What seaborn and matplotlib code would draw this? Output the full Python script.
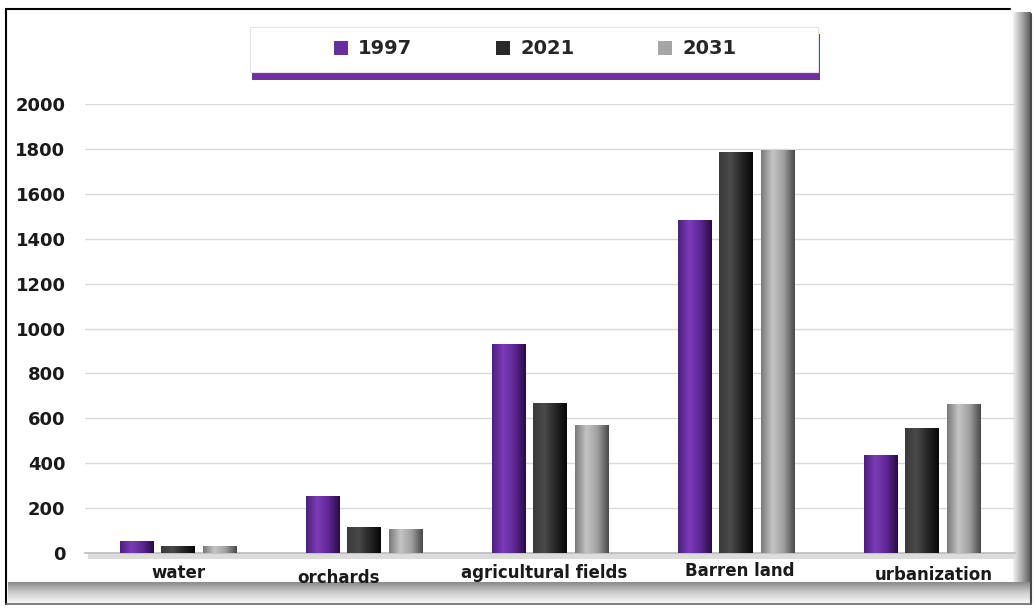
import numpy as np
import pandas as pd
import matplotlib
matplotlib.use("Agg")
import matplotlib.pyplot as plt
import matplotlib.transforms as mtransforms
from matplotlib.colors import LinearSegmentedColormap
from matplotlib.patches import Rectangle
import seaborn as sns

categories = ["water", "orchards", "agricultural fields", "Barren land", "urbanization"]
years = ["1997", "2021", "2031"]
values_1997 = [53, 254, 930, 1483, 436]
values_2021 = [30, 116, 668, 1786, 557]
values_2031 = [30, 107, 570, 1795, 664]
y_ticks = [0, 200, 400, 600, 800, 1000, 1200, 1400, 1600, 1800, 2000]

df = pd.DataFrame({
    "category": categories * 3,
    "year": [years[0]] * 5 + [years[1]] * 5 + [years[2]] * 5,
    "value": values_1997 + values_2021 + values_2031,
})

palette = {"1997": "#6a2d9f", "2021": "#2a2a2a", "2031": "#a6a6a6"}
gradients = {
    "1997": ["#4e1f80", "#7c3cb8", "#5e2792", "#2a0c45"],
    "2021": ["#3a3a3a", "#4a4a4a", "#262626", "#080808"],
    "2031": ["#7a7a7a", "#c4c4c4", "#a0a0a0", "#4a4a4a"],
}

sns.set_theme(style="white")
plt.rcParams["font.family"] = ["DejaVu Sans"]

W, H = 1034, 609
fig = plt.figure(figsize=(W / 100, H / 100), dpi=100)
fig.patch.set_facecolor("white")

# background frame (figure-pixel coordinates)
bg = fig.add_axes([0, 0, 1, 1], zorder=-5)
bg.set_xlim(0, W)
bg.set_ylim(H, 0)
bg.axis("off")
side_cmap = LinearSegmentedColormap.from_list("g", ["#f4f4f4", "#a8a8a8", "#5a5a5a"])
bottom_cmap = LinearSegmentedColormap.from_list("b", ["#fafafa", "#d0d0d0", "#8a8a8a"])
bg.imshow(np.linspace(0, 1, 64).reshape(1, -1), cmap=side_cmap, aspect="auto",
          extent=(1013, 1031, 603, 12), zorder=1)
bg.imshow(np.linspace(0, 1, 64).reshape(-1, 1), cmap=bottom_cmap, aspect="auto",
          extent=(8, 1031, 582, 604), zorder=1)
bg.plot([6, 6], [604, 9], color="black", lw=1.5, zorder=3)
bg.plot([6, 1010], [9, 9], color="black", lw=1.5, zorder=3)
bg.plot([1031, 1031], [14, 604], color="#4a4a4a", lw=1.5, zorder=3)
bg.plot([6, 1031], [604, 604], color="#6a6a6a", lw=1.2, zorder=3)
# floor of plot area
bg.add_patch(Rectangle((88, 553), 928, 6, facecolor="#dcdcdc", edgecolor="none", zorder=2))
# legend box with purple shadow
bg.add_patch(Rectangle((252, 34), 568, 46, facecolor="#7030a0", edgecolor="none", zorder=2))
bg.add_patch(Rectangle((250, 27), 568, 45, facecolor="white", edgecolor="#e6e6e6", lw=0.8, zorder=3))

ax = fig.add_axes([85 / W, 1 - 553 / H, 930 / W, 449 / H])
ax.set_facecolor("none")
sns.barplot(data=df, x="category", y="value", hue="year", hue_order=years,
            order=categories, palette=palette, width=0.666, gap=0.2,
            saturation=1, ax=ax, edgecolor="none", legend=True)

ax.set_ylim(0, 2000)
ax.set_xlim(-0.5, 4.5)
ax.set_yticks(y_ticks)
ax.set_yticklabels([str(v) for v in y_ticks], fontsize=13, fontweight="bold", color="#1a1a1a")
ax.tick_params(axis="y", length=0, pad=14)
ax.tick_params(axis="x", length=0, pad=8)
ax.grid(axis="y", color="#d9d9d9", lw=1)
ax.set_axisbelow(True)
for s in ["top", "right", "left"]:
    ax.spines[s].set_visible(False)
ax.spines["bottom"].set_color("#bfbfbf")
ax.set_xlabel("")
ax.set_ylabel("")

# x tick labels with offsets like the reference
dx = [0, -26, -6, 4, 12]
dy = [0, -5, 0, 2, -2]
ax.set_xticks(range(len(categories)))
ax.set_xticklabels(categories, fontsize=12, fontweight="bold", color="#1a1a1a")
for lab, ox, oy in zip(ax.get_xticklabels(), dx, dy):
    lab.set_transform(lab.get_transform() +
                      mtransforms.ScaledTranslation(ox / 100, oy / 100, fig.dpi_scale_trans))

# bevel-like gradient on each bar
handles, labels = ax.get_legend_handles_labels()
ax.get_legend().remove()
for cont, yr in zip(ax.containers, years):
    cmap = LinearSegmentedColormap.from_list(yr, gradients[yr])
    for p in cont.patches:
        x0, w, h = p.get_x(), p.get_width(), p.get_height()
        im = ax.imshow(np.linspace(0, 1, 64).reshape(1, -1), cmap=cmap, aspect="auto",
                       extent=(x0, x0 + w, 0, h), zorder=3)
        im.set_clip_path(p)
ax.set_xlim(-0.5, 4.5)
ax.set_ylim(0, 2000)

fig.legend(handles, labels, loc="center", bbox_to_anchor=(535 / W, 1 - 49 / H),
           ncol=3, frameon=False, prop={"size": 14, "weight": "bold"},
           handlelength=0.75, handleheight=0.75, handletextpad=0.5, columnspacing=4.3)

fig.savefig("out.png", dpi=100)
